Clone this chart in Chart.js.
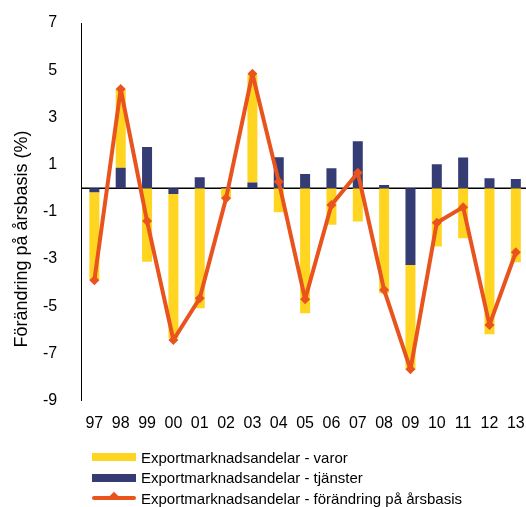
<!DOCTYPE html>
<html>
<head>
<meta charset="utf-8">
<script src="https://cdn.jsdelivr.net/npm/chart.js@4.4.0/dist/chart.umd.min.js"></script>
<style>
html, body { margin: 0; padding: 0; overflow: hidden; background: #fff; width: 526px; height: 507px; }
#wrap { position: relative; width: 526px; height: 507px; overflow: hidden; }
#chart { position: absolute; left: 0; top: 0; }
#legend { position: absolute; left: 92px; top: 447px; font: 15px "Liberation Sans", Arial, sans-serif; color: #000; }
.item { display: flex; align-items: center; height: 20.5px; white-space: nowrap; }
.swatch { width: 44px; height: 8px; margin-right: 5px; position: relative; }
.swatch.line { height: 4px; border-radius: 2px; }
.swatch.line span { position: absolute; left: 19px; top: -3px; width: 6px; height: 6px; transform: rotate(45deg); }
</style>
</head>
<body>
<div id="wrap">
  <canvas id="chart" width="534" height="507"></canvas>
  <div id="legend"></div>
</div>
<script>
const years = ['97', '98', '99', '00', '01', '02', '03', '04', '05', '06', '07', '08', '09', '10', '11', '12', '13'];
const varor = [-3.72, 3.33, -3.11, -6.1, -5.08, -0.42, 4.56, -1.02, -5.3, -1.55, -1.41, -4.45, -4.45, -2.47, -2.12, -6.19, -3.14];
const tjanster = [-0.17, 0.87, 1.75, -0.24, 0.47, 0.05, 0.24, 1.31, 0.6, 0.85, 1.99, 0.14, -3.25, 1.02, 1.3, 0.42, 0.39];
const forandring = [-3.9, 4.2, -1.39, -6.43, -4.66, -0.42, 4.85, 0.28, -4.7, -0.71, 0.66, -4.31, -7.67, -1.46, -0.8, -5.79, -2.71];
const axisTitle = 'Förändring på årsbasis (%)';

const yellow = '#FFD522';
const navy = '#353B73';
const orange = '#E9531E';
const font = '"Liberation Sans", Arial, sans-serif';

// rotated y axis title, sits a bit below the middle like in the original
const yTitle = {
    id: 'yTitle',
    afterDraw(chart) {
        const c = chart.ctx;
        c.save();
        c.translate(22, 239);
        c.rotate(-Math.PI / 2);
        c.font = '18px ' + font;
        c.fillStyle = '#000';
        c.textAlign = 'center';
        c.textBaseline = 'middle';
        c.fillText(axisTitle, 0, 0);
        c.restore();
    }
};

// black line at zero (0 is not one of the odd ticks)
const zeroLine = {
    id: 'zeroLine',
    beforeDatasetsDraw(chart) {
        const c = chart.ctx;
        const y = chart.scales.y.getPixelForValue(0);
        c.save();
        c.strokeStyle = '#000';
        c.lineWidth = 1.5;
        c.beginPath();
        c.moveTo(chart.chartArea.left, y);
        c.lineTo(chart.chartArea.right, y);
        c.stroke();
        c.restore();
    }
};

// no automatic label overhang padding, layout.padding decides the plot area
const noPad = s => { s.paddingLeft = 0; s.paddingRight = 0; s.paddingTop = 0; s.paddingBottom = 0; };

const chart = new Chart(document.getElementById('chart'), {
    type: 'bar',
    data: {
        labels: years,
        datasets: [
            {
                label: 'Exportmarknadsandelar - tjänster',
                data: tjanster,
                backgroundColor: navy,
                stack: 'bars',
                order: 1
            },
            {
                label: 'Exportmarknadsandelar - varor',
                data: varor,
                backgroundColor: yellow,
                stack: 'bars',
                order: 1
            },
            {
                type: 'line',
                label: 'Exportmarknadsandelar - förändring på årsbasis',
                data: forandring,
                borderColor: orange,
                backgroundColor: orange,
                borderWidth: 4,
                borderJoinStyle: 'round',
                pointStyle: 'rectRot',
                pointRadius: 5,
                pointBorderWidth: 0,
                tension: 0,
                stack: 'line',
                order: 0
            }
        ]
    },
    options: {
        responsive: false,
        animation: false,
        categoryPercentage: 1,
        barPercentage: 0.38,
        layout: { padding: { top: 23, right: 1.4, bottom: 66.3, left: 0 } },
        plugins: {
            legend: { display: false },
            tooltip: { enabled: false }
        },
        scales: {
            x: {
                stacked: true,
                grid: { display: false },
                border: { display: false },
                ticks: {
                    color: '#000',
                    font: { family: font, size: 16 },
                    padding: 5,
                    maxRotation: 0,
                    autoSkip: false
                },
                afterFit: s => { s.height = 40; noPad(s); }
            },
            y: {
                stacked: true,
                min: -9,
                max: 7,
                ticks: {
                    stepSize: 2,
                    color: '#000',
                    font: { family: font, size: 16 },
                    padding: 16
                },
                grid: { display: false },
                border: { display: true, color: '#000', width: 1 },
                afterFit: s => { s.width = 81.2; noPad(s); }
            }
        }
    },
    plugins: [zeroLine, yTitle]
});

// legend in the original order: varor, tjänster, line
const legendItems = [
    { label: chart.data.datasets[1].label, color: yellow, line: false },
    { label: chart.data.datasets[0].label, color: navy, line: false },
    { label: chart.data.datasets[2].label, color: orange, line: true }
];
const legend = document.getElementById('legend');
legendItems.forEach(it => {
    const row = document.createElement('div');
    row.className = 'item';
    const sw = document.createElement('div');
    sw.className = 'swatch' + (it.line ? ' line' : '');
    sw.style.background = it.color;
    if (it.line) {
        const dot = document.createElement('span');
        dot.style.background = it.color;
        sw.appendChild(dot);
    }
    const txt = document.createElement('span');
    txt.textContent = it.label;
    row.appendChild(sw);
    row.appendChild(txt);
    legend.appendChild(row);
});
</script>
</body>
</html>
